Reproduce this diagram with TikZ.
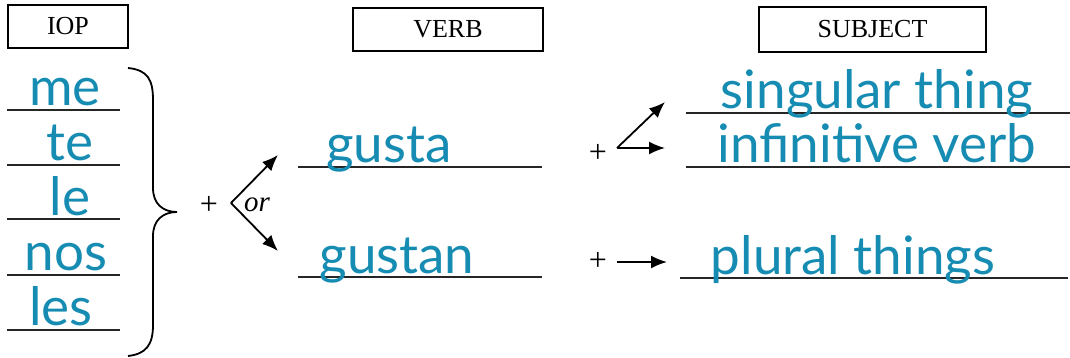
\documentclass[tikz,border=0pt]{standalone}
\usepackage{fontspec}
\setmainfont{Liberation Serif}
\newfontfamily\hand{Lato}
\usetikzlibrary{arrows.meta}
\definecolor{ink}{RGB}{22,140,178}
\begin{document}
\begin{tikzpicture}[x=1pt,y=-1pt,
  hdr/.style={draw, line width=1.8pt, inner sep=0pt, font=\fontsize{26}{26}\selectfont},
  word/.style={text=ink, font=\hand\fontsize{53}{53}\selectfont, inner sep=0pt, anchor=base},
  rule/.style={line width=1.3pt, draw=black!85},
  arr/.style={line width=1.8pt, -{Latex[length=16pt,width=13pt]}},
  sym/.style={font=\fontsize{32}{32}\selectfont, inner sep=0pt}]
\useasboundingbox (0,0) rectangle (1070,358);
% header boxes
\node[hdr, minimum width=120pt, minimum height=43pt] (iop) at (68,26.5) {\raisebox{-5pt}{IOP}};
\node[hdr, minimum width=190pt, minimum height=43pt] (verb) at (448,29.5) {\raisebox{-5pt}{VERB}};
\node[hdr, minimum width=227pt, minimum height=45pt] (subj) at (872.5,29.5) {\raisebox{-5pt}{SUBJECT}};
% IOP rules and words
\foreach \yy in {110,165,219,275,330} \draw[rule] (7,\yy) -- (120,\yy);
\node[word] (me) at (65,106) {me};
\node[word] (te) at (70,161) {te};
\node[word] (le) at (70,215) {le};
\node[word] (nos) at (66,270) {nos};
\node[word] (les) at (61,325) {les};
% brace
\draw[line width=1.8pt] (128,68) .. controls (148,70) and (153,80) .. (153,100) -- (153,188)
  .. controls (153,204) and (163,212) .. (177,212)
  .. controls (163,212) and (153,220) .. (153,236) -- (153,325)
  .. controls (153,345) and (146,354) .. (128,356);
% plus / or fork
\node[sym] (p1) at (209,205) {+};
\coordinate (f1) at (231,203);
\coordinate (t1a) at (278,155);
\coordinate (t1b) at (278,251);
\draw[arr] (f1) -- (t1a);
\draw[arr] (f1) -- (t1b);
\node[sym, font=\itshape\fontsize{29}{29}\selectfont] (or) at (257,205) {or};
% verb rules and words
\draw[rule] (298,167) -- (542,167);
\draw[rule] (298,277) -- (542,277);
\node[word] (gusta) at (389,163) {gusta};
\node[word] (gustan) at (397,273) {gustan};
% subject side
\node[sym] (p2) at (598,153) {+};
\coordinate (f2) at (617,148);
\coordinate (t2a) at (665,102);
\coordinate (t2b) at (665,148);
\draw[arr] (f2) -- (t2a);
\draw[arr] (f2) -- (t2b);
\node[sym] (p3) at (598,261) {+};
\coordinate (f3) at (617,262);
\coordinate (t3) at (667,262);
\draw[arr] (f3) -- (t3);
\draw[rule] (686,113) -- (1070,113);
\draw[rule] (686,167) -- (1070,167);
\draw[rule] (680,278) -- (1068,278);
\node[word] (sing) at (877,109) {singular thing};
\node[word] (inf) at (877,163) {infinitive verb};
\node[word] (plur) at (853,274) {plural things};
\end{tikzpicture}
\end{document}
